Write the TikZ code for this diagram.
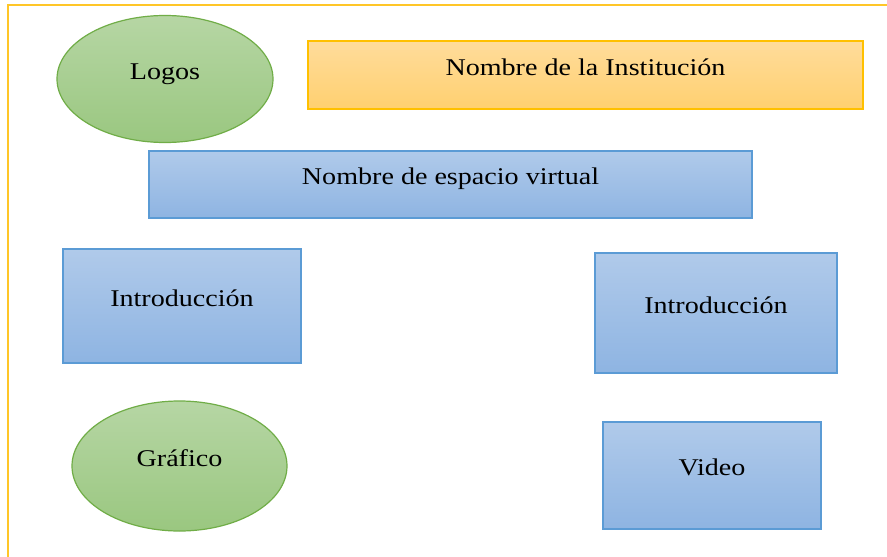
\documentclass[tikz,border=0pt]{standalone}
\usepackage{fontspec}
\setmainfont{Liberation Serif}[FakeStretch=1.17]
\usetikzlibrary{shapes.geometric}
\definecolor{gtop}{RGB}{182,214,164}
\definecolor{gbot}{RGB}{154,199,128}
\definecolor{gline}{RGB}{112,173,71}
\definecolor{btop}{RGB}{176,202,234}
\definecolor{bbot}{RGB}{142,180,226}
\definecolor{bline}{RGB}{91,155,213}
\definecolor{otop}{RGB}{255,220,155}
\definecolor{obot}{RGB}{255,208,112}
\definecolor{oline}{RGB}{255,192,0}
\definecolor{frame}{RGB}{255,198,40}
\tikzset{
  greenoval/.style={ellipse, draw=gline, line width=1.2pt, top color=gtop, bottom color=gbot, inner sep=0pt},
  bluebox/.style={rectangle, draw=bline, line width=1.2pt, top color=btop, bottom color=bbot, inner sep=0pt},
  orangebox/.style={rectangle, draw=oline, line width=1.2pt, top color=otop, bottom color=obot, inner sep=0pt},
  lbl/.style={anchor=base, inner sep=0pt, font=\fontsize{24}{28}\selectfont, text=black}
}
\begin{document}
\begin{tikzpicture}[x=1pt,y=-1pt]
\useasboundingbox (0,0) rectangle (887,557);
\fill[white] (0,0) rectangle (887,557);
\draw[frame, line width=2pt] (8,557) -- (8,5) -- (887,5);

\node[greenoval, minimum width=216pt, minimum height=127pt] (logos) at (165,79) {};
\node[lbl] (logost) at (logos.center) {Logos};

\node[orangebox, minimum width=555pt, minimum height=68pt] (inst) at (585.5,75) {};
\node[lbl] (instt) at (inst.center) {Nombre de la Institución};

\node[bluebox, minimum width=603pt, minimum height=67pt] (esp) at (450.5,184.5) {};
\node[lbl] (espt) at (esp.center) {Nombre de espacio virtual};

\node[bluebox, minimum width=238pt, minimum height=114pt] (introl) at (182,306) {};
\node[lbl] (introlt) at (introl.center) {Introducción};

\node[bluebox, minimum width=242pt, minimum height=120pt] (intror) at (716,313) {};
\node[lbl] (intrort) at (intror.center) {Introducción};

\node[greenoval, minimum width=215pt, minimum height=130pt] (graf) at (179.5,466) {};
\node[lbl] (graft) at (graf.center) {Gráfico};

\node[bluebox, minimum width=218pt, minimum height=107pt] (video) at (712,475.5) {};
\node[lbl] (videot) at (video.center) {Video};
\end{tikzpicture}
\end{document}
